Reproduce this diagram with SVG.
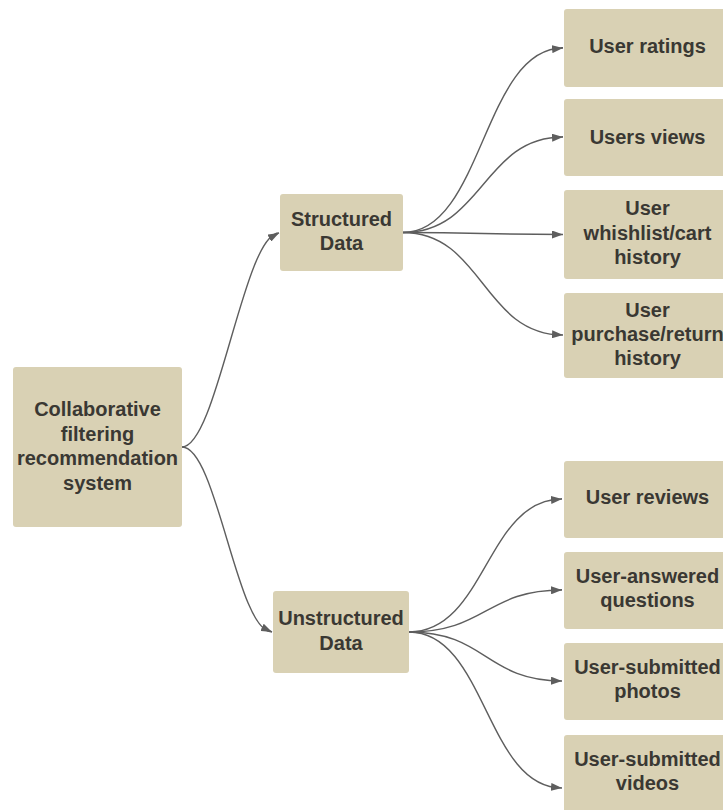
<svg xmlns="http://www.w3.org/2000/svg" width="723" height="810" viewBox="0 0 723 810">
  <style>
    .box { fill: #d9d1b4; }
    .label { font-family: "Liberation Sans", Arial, sans-serif; font-size: 20px; font-weight: bold; fill: #3a3833; text-anchor: middle; }
    .edge { fill: none; stroke: #5e5e5e; stroke-width: 1.4; marker-end: url(#arrow); }
  </style>
  <defs>
    <marker id="arrow" viewBox="0 0 11 8" refX="11" refY="4" markerWidth="11" markerHeight="8" markerUnits="userSpaceOnUse" orient="auto">
      <path d="M0,0 L11,4 L0,8 z" fill="#5e5e5e"/>
    </marker>
  </defs>
  <rect width="723" height="810" fill="#ffffff"/>

  <!-- connectors: each curve ends with a short segment that sets the arrowhead direction -->
  <g id="connectors">
    <path class="edge" d="M182,447 C217,447 244,233 279,233 M270.3,237.6 L279,233"/>
    <path class="edge" d="M182,447 C217,447 237,632 272,632 M263.4,628 L272,632"/>

    <path class="edge" d="M403,232.5 C483,232.5 483,48 563,48 M552.7,49.1 L563,48"/>
    <path class="edge" d="M403,232.5 C483,232.5 483,137 563,137 M552.7,137.6 L563,137"/>
    <path class="edge" d="M403,232.5 C483,232.5 483,234.5 563,234.5 M552.7,234.5 L563,234.5"/>
    <path class="edge" d="M403,232.5 C483,232.5 483,335 563,335 M552.7,334.4 L563,335"/>

    <path class="edge" d="M409,632 C486,632 486,499 562,499 M551.7,499.9 L562,499"/>
    <path class="edge" d="M409,632 C486,632 486,590 562,590 M551.7,590.3 L562,590"/>
    <path class="edge" d="M409,632 C486,632 486,681 562,681 M551.7,680.7 L562,681"/>
    <path class="edge" d="M409,632 C486,632 486,788 562,788 M551.7,787 L562,788"/>
  </g>

  <g id="root">
    <rect class="box" x="13" y="367" width="169" height="160" rx="3"/>
    <text class="label" x="97.5" y="416">Collaborative</text>
    <text class="label" x="97.5" y="440.5">filtering</text>
    <text class="label" x="97.5" y="465">recommendation</text>
    <text class="label" x="97.5" y="489.5">system</text>
  </g>

  <g id="structured">
    <rect class="box" x="280" y="194" width="123" height="77" rx="3"/>
    <text class="label" x="341.5" y="226">Structured</text>
    <text class="label" x="341.5" y="250">Data</text>
  </g>

  <g id="unstructured">
    <rect class="box" x="273" y="591" width="136" height="82" rx="3"/>
    <text class="label" x="341" y="625">Unstructured</text>
    <text class="label" x="341" y="649.5">Data</text>
  </g>

  <g id="ratings">
    <rect class="box" x="564" y="9" width="170" height="78" rx="3"/>
    <text class="label" x="647.5" y="53">User ratings</text>
  </g>

  <g id="views">
    <rect class="box" x="564" y="99" width="170" height="77" rx="3"/>
    <text class="label" x="647.5" y="143.5">Users views</text>
  </g>

  <g id="wishlist">
    <rect class="box" x="564" y="190" width="170" height="89" rx="3"/>
    <text class="label" x="647.5" y="215">User</text>
    <text class="label" x="647.5" y="239.5">whishlist/cart</text>
    <text class="label" x="647.5" y="264">history</text>
  </g>

  <g id="purchase">
    <rect class="box" x="564" y="293" width="170" height="85" rx="3"/>
    <text class="label" x="647.5" y="317">User</text>
    <text class="label" x="647.5" y="341">purchase/return</text>
    <text class="label" x="647.5" y="365">history</text>
  </g>

  <g id="reviews">
    <rect class="box" x="564" y="461" width="170" height="77" rx="3"/>
    <text class="label" x="647.5" y="503.5">User reviews</text>
  </g>

  <g id="questions">
    <rect class="box" x="564" y="552" width="170" height="77" rx="3"/>
    <text class="label" x="647.5" y="582.5">User-answered</text>
    <text class="label" x="647.5" y="606.5">questions</text>
  </g>

  <g id="photos">
    <rect class="box" x="564" y="643" width="170" height="77" rx="3"/>
    <text class="label" x="647.5" y="674">User-submitted</text>
    <text class="label" x="647.5" y="698">photos</text>
  </g>

  <g id="videos">
    <rect class="box" x="564" y="735" width="170" height="80" rx="3"/>
    <text class="label" x="647.5" y="766">User-submitted</text>
    <text class="label" x="647.5" y="790">videos</text>
  </g>
</svg>
